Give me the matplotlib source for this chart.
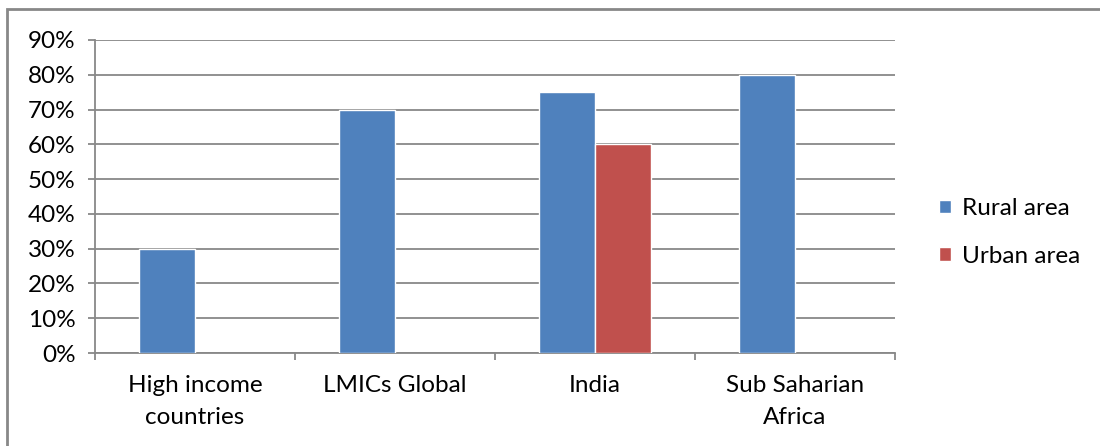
import numpy as np
import matplotlib.pyplot as plt
from matplotlib.patches import Rectangle
from matplotlib.ticker import PercentFormatter

plt.rcParams['font.family'] = ['Lato', 'DejaVu Sans']

# data (nan = no bar)
categories = ["High income\ncountries", "LMICs Global", "India", "Sub Saharian\nAfrica"]
rural = [30, 70, 75, 80]
urban = [np.nan, np.nan, 60, np.nan]
series_names = ["Rural area", "Urban area"]
colors = ["#4F81BD", "#C0504D"]
grid_color = "#888888"

fig = plt.figure(figsize=(11, 4.46), dpi=100)
# outer chart border (Excel style)
fig.patches.append(Rectangle((7 / 1100, -0.1), 1.2, 1 - 9 / 446 + 0.1,
                             transform=fig.transFigure, fill=False,
                             edgecolor=grid_color, linewidth=2))

ax = fig.add_axes([95 / 1100, 1 - 353 / 446, 800 / 1100, 313 / 446])

x = np.arange(len(categories))
w = 0.28
ax.bar(x - w / 2, rural, w, color=colors[0], edgecolor="white", linewidth=1,
       label=series_names[0], zorder=3)
ax.bar(x + w / 2, urban, w, color=colors[1], edgecolor="white", linewidth=1,
       label=series_names[1], zorder=3)

ax.set_xlim(-0.5, len(categories) - 0.5)
ax.set_ylim(0, 90)
ax.set_yticks(np.arange(0, 91, 10))
ax.yaxis.set_major_formatter(PercentFormatter(decimals=0))
ax.yaxis.grid(True, color=grid_color, linewidth=1.3, zorder=0)

ax.set_xticks(x)
ax.set_xticklabels(categories, fontsize=17.5, linespacing=1.65)
ax.set_xticks(np.arange(-0.5, len(categories)), minor=True)
ax.tick_params(axis="x", which="major", length=0, pad=16)
ax.tick_params(axis="x", which="minor", length=5, color=grid_color, width=1.3)
ax.tick_params(axis="y", length=5, color=grid_color, width=1.3, labelsize=17.5, pad=9)

for side in ["top", "right"]:
    ax.spines[side].set_visible(False)
for side in ["left", "bottom"]:
    ax.spines[side].set_color(grid_color)
    ax.spines[side].set_linewidth(1.3)

ax.legend(loc="center left", bbox_to_anchor=(1.055, 0.385), frameon=False,
          fontsize=17.5, handlelength=0.5, handleheight=0.5, handletextpad=0.45,
          labelspacing=1.1, borderpad=0, borderaxespad=0)

fig.savefig("out.png", dpi=100)
